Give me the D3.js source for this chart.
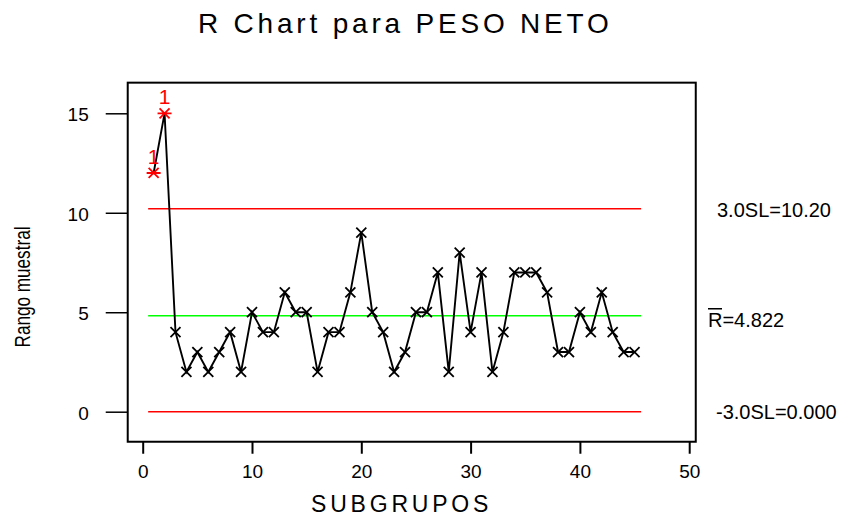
<!DOCTYPE html>
<html>
<head>
<meta charset="utf-8">
<script src="https://cdn.jsdelivr.net/npm/d3@7"></script>
<style>
  body { margin: 0; background: #fff; }
  svg { font-family: "Liberation Sans", Arial, sans-serif; }
</style>
</head>
<body>
<svg id="chart"></svg>
<script>
// subgroup ranges (45 subgroups)
const subgroups = d3.range(1, 46);
const ranges = [12, 15, 4, 2, 3, 2, 3, 4, 2, 5,
                4, 4, 6, 5, 5, 2, 4, 4, 6, 9,
                5, 4, 2, 3, 5, 5, 7, 2, 8, 4,
                7, 2, 4, 7, 7, 7, 6, 3, 3, 5,
                4, 6, 4, 3, 3];
const xTicks = [0, 10, 20, 30, 40, 50];
const yTicks = [0, 5, 10, 15];
const ucl = 10.20;
const centerLine = 4.822;
const lcl = 0.000;

const width = 846;
const height = 519;

const svg = d3.select('#chart')
  .attr('width', width)
  .attr('height', height);

const xScale = d3.scaleLinear().domain([0, 50]).range([142.7, 689.2]);
const yScale = d3.scaleLinear().domain([0, 15]).range([411.7, 113.3]);

// plot frame
const box = {left: xScale(-1.37), right: xScale(50.6), top: yScale(16.54), bottom: yScale(-1.51)};
svg.append('rect')
   .attr('x', box.left)
   .attr('y', box.top)
   .attr('width', box.right - box.left)
   .attr('height', box.bottom - box.top)
   .attr('fill', 'none')
   .attr('stroke', '#000')
   .attr('stroke-width', 2);

// axes
const xAxis = d3.axisBottom(xScale).tickValues(xTicks).tickSize(12).tickSizeOuter(0).tickPadding(11);
const gx = svg.append('g')
   .attr('transform', `translate(0, ${box.bottom})`)
   .call(xAxis);
gx.select('.domain').remove();
gx.selectAll('line').attr('stroke-width', 2);
gx.selectAll('text').attr('font-size', 19).attr('font-family', null).attr('fill', '#000');

const yAxis = d3.axisLeft(yScale).tickValues(yTicks).tickSize(22).tickPadding(17);
const gy = svg.append('g')
   .attr('transform', `translate(${box.left}, 0)`)
   .call(yAxis);
gy.select('.domain').remove();
gy.selectAll('line').attr('stroke-width', 1.5);
gy.selectAll('text').attr('font-size', 19).attr('font-family', null).attr('fill', '#000').attr('dy', '0.4em');

// control limits
const limits = [
  {value: ucl, color: '#ff0000'},
  {value: centerLine, color: '#00ff00'},
  {value: lcl, color: '#ff0000'}
];
svg.selectAll('.limit')
   .data(limits)
   .enter()
   .append('line')
   .attr('class', 'limit')
   .attr('x1', xScale(0.5))
   .attr('x2', xScale(45.6))
   .attr('y1', d => yScale(d.value))
   .attr('y2', d => yScale(d.value))
   .attr('stroke', d => d.color)
   .attr('stroke-width', 1.6);

// limit labels on the right
svg.append('text')
   .attr('x', 717).attr('y', yScale(ucl) + 8)
   .attr('font-size', 20)
   .text('3.0SL=' + ucl.toFixed(2));

svg.append('text')
   .attr('x', 708).attr('y', yScale(centerLine) + 11)
   .attr('font-size', 20)
   .text('R=' + centerLine.toFixed(3));
svg.append('line')
   .attr('x1', 708).attr('x2', 722)
   .attr('y1', yScale(centerLine) - 7).attr('y2', yScale(centerLine) - 7)
   .attr('stroke', '#000').attr('stroke-width', 1.5);

svg.append('text')
   .attr('x', 716).attr('y', yScale(lcl) + 7)
   .attr('font-size', 20)
   .text('-3.0SL=' + lcl.toFixed(3));

// data line
const points = subgroups.map((s, i) => ({s: s, r: ranges[i], out: ranges[i] > ucl}));
svg.append('path')
   .datum(points)
   .attr('fill', 'none')
   .attr('stroke', '#000')
   .attr('stroke-width', 1.9)
   .attr('d', d3.line().x(d => xScale(d.s)).y(d => yScale(d.r)));

// markers
const m = 5;
svg.selectAll('.mark')
   .data(points)
   .enter()
   .append('path')
   .attr('class', 'mark')
   .attr('transform', d => `translate(${xScale(d.s)}, ${yScale(d.r)})`)
   .attr('fill', 'none')
   .attr('stroke', d => d.out ? '#ff0000' : '#000')
   .attr('stroke-width', 1.8)
   .attr('d', d => d.out
     ? `M${-m},${-m}L${m},${m}M${-m},${m}L${m},${-m}M${-7},0L7,0`
     : `M${-m},${-m}L${m},${m}M${-m},${m}L${m},${-m}`);

svg.selectAll('.flag')
   .data(points.filter(d => d.out))
   .enter()
   .append('text')
   .attr('class', 'flag')
   .attr('x', d => xScale(d.s))
   .attr('y', d => yScale(d.r) - 9)
   .attr('text-anchor', 'middle')
   .attr('font-size', 21)
   .attr('fill', '#ff0000')
   .text('1');

// titles
svg.append('text')
   .attr('x', 198).attr('y', 33)
   .attr('font-size', 28)
   .attr('letter-spacing', 3.8)
   .text('R Chart para PESO NETO');

svg.append('text')
   .attr('x', 311).attr('y', 512)
   .attr('font-size', 23)
   .attr('letter-spacing', 3.8)
   .text('SUBGRUPOS');

svg.append('text')
   .attr('transform', `translate(30, ${287}) rotate(-90)`)
   .attr('text-anchor', 'middle')
   .attr('font-size', 22)
   .attr('textLength', 121)
   .attr('lengthAdjust', 'spacingAndGlyphs')
   .text('Rango muestral');
</script>
</body>
</html>
